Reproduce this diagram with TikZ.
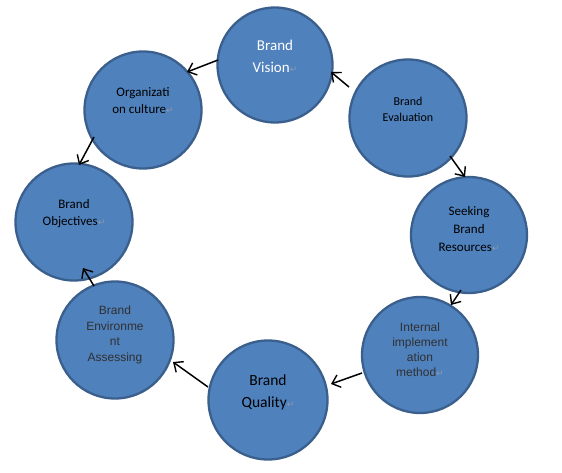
\documentclass[tikz,border=0pt]{standalone}
\usepackage{fontspec}
\setmainfont{Carlito}
\newfontfamily\arialf{Liberation Sans}
\newfontfamily\symf{DejaVu Sans}
\usetikzlibrary{arrows.meta}
\definecolor{cfill}{HTML}{4F81BD}
\definecolor{cedge}{HTML}{3A5F8C}
\definecolor{ret}{HTML}{8E99AD}
\definecolor{dtext}{HTML}{303030}
\newcommand{\rmark}{{\symf\fontsize{9pt}{9pt}\selectfont\textcolor{ret}{↵}}}
\tikzset{
  bubble/.style={draw=cedge, fill=cfill, line width=2.3pt, circle, inner sep=0pt},
  lbl/.style={align=center, inner sep=0pt},
  conn/.style={line width=1.5pt, -{Straight Barb[length=7.5pt,width=13pt,line width=1.4pt]}},
}
\begin{document}
\begin{tikzpicture}[x=1pt,y=1pt]
\useasboundingbox (0,0) rectangle (562,472);
% circles
\node[bubble, minimum size=115pt] (vision) at (275,407) {};
\node[bubble, minimum size=117pt] (org) at (143,362) {};
\node[bubble, minimum size=117pt] (eval) at (408,354) {};
\node[bubble, minimum size=116pt] (seek) at (469,237) {};
\node[bubble, minimum size=117pt] (obj) at (74,250) {};
\node[bubble, minimum size=117pt] (env) at (115,132) {};
\node[bubble, minimum size=119pt] (quality) at (268,72) {};
\node[bubble, minimum size=116pt] (internal) at (420,117) {};
% labels
\node[lbl, text=white, font=\fontsize{15pt}{22pt}\selectfont] (tvision) at ([yshift=9pt]vision.center) {Brand\\Vision\rmark};
\node[lbl, font=\fontsize{13pt}{17pt}\selectfont] (torg) at ([yshift=9.5pt]org.center) {Organizati\\on culture\rmark};
\node[lbl, font=\fontsize{12pt}{16pt}\selectfont] (teval) at ([yshift=9pt]eval.center) {Brand\\Evaluation};
\node[lbl, font=\fontsize{13pt}{18pt}\selectfont] (tseek) at ([yshift=6pt]seek.center) {Seeking\\Brand\\Resources\rmark};
\node[lbl, font=\fontsize{13pt}{17pt}\selectfont] (tobj) at ([yshift=8.5pt]obj.center) {Brand\\Objectives\rmark};
\node[lbl, text=dtext, font=\arialf\fontsize{12pt}{15.5pt}\selectfont] (tenv) at ([yshift=5pt]env.center) {Brand\\Environme\\nt\\Assessing};
\node[lbl, text=dtext, font=\arialf\fontsize{12pt}{15pt}\selectfont] (tint) at ([yshift=5pt]internal.center) {Internal\\implement\\ation\\method\rmark};
\node[lbl, font=\fontsize{15.5pt}{22pt}\selectfont] (tquality) at ([yshift=8pt]quality.center) {Brand\\Quality\rmark};
% connectors
\draw[conn] ([shift={(-59pt,31pt)}]eval.center) -- ([shift={(56pt,-7pt)}]vision.center);
\draw[conn] ([shift={(-57pt,5pt)}]vision.center) -- ([shift={(44pt,38pt)}]org.center);
\draw[conn] ([shift={(-49pt,-27pt)}]org.center) -- ([shift={(5pt,57pt)}]obj.center);
\draw[conn] ([shift={(42pt,-38pt)}]eval.center) -- ([shift={(-4pt,58pt)}]seek.center);
\draw[conn] ([shift={(-8pt,-55pt)}]seek.center) -- ([shift={(31pt,50pt)}]internal.center);
\draw[conn] ([shift={(-58pt,-18pt)}]internal.center) -- ([shift={(63pt,16pt)}]quality.center);
\draw[conn] ([shift={(-60pt,13pt)}]quality.center) -- ([shift={(58pt,-22pt)}]env.center);
\draw[conn] ([shift={(-21pt,54pt)}]env.center) -- ([shift={(9pt,-46pt)}]obj.center);
\end{tikzpicture}
\end{document}
